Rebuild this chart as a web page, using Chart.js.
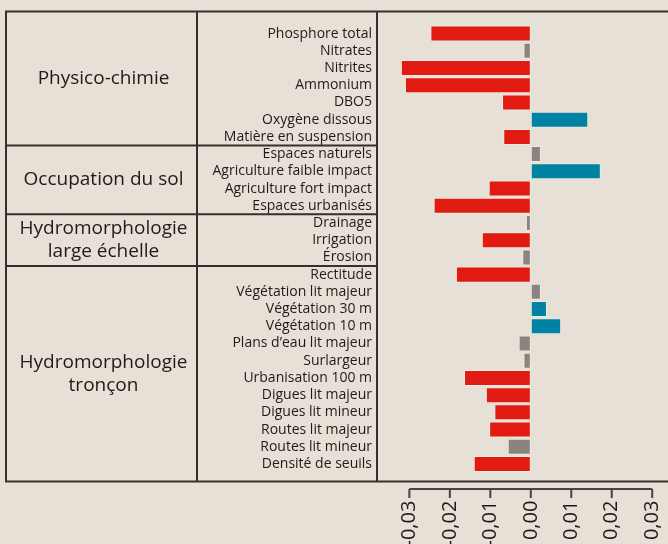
<!DOCTYPE html>
<html lang="fr">
<head>
<meta charset="utf-8">
<title>Effets des pressions</title>
<script src="https://cdn.jsdelivr.net/npm/chart.js@4/dist/chart.umd.min.js"></script>
<style>
  html, body { margin: 0; padding: 0; overflow: hidden; background: #e6e0d6; }
  #wrap { position: relative; width: 668px; height: 560px; }
</style>
</head>
<body>
<div id="wrap"><canvas id="chart"></canvas></div>
<script>
const categories = [
    'Phosphore total', 'Nitrates', 'Nitrites', 'Ammonium', 'DBO5', 'Oxygène dissous', 'Matière en suspension',
    'Espaces naturels', 'Agriculture faible impact', 'Agriculture fort impact', 'Espaces urbanisés',
    'Drainage', 'Irrigation', 'Érosion',
    'Rectitude', 'Végétation lit majeur', 'Végétation 30 m', 'Végétation 10 m', 'Plans d’eau lit majeur',
    'Surlargeur', 'Urbanisation 100 m', 'Digues lit majeur', 'Digues lit mineur', 'Routes lit majeur',
    'Routes lit mineur', 'Densité de seuils',
];
const values = [
    -0.0248, -0.0018, -0.0321, -0.0311, -0.0071, 0.0142, -0.0068,
    0.0025, 0.0173, -0.0104, -0.0240,
    -0.0012, -0.0121, -0.0021,
    -0.0185, 0.0025, 0.0040, 0.0075, -0.0030,
    -0.0018, -0.0165, -0.0111, -0.0090, -0.0103,
    -0.0057, -0.0141,
];
// gray bars = not significant
const significant = [
    true, false, true, true, true, true, true,
    false, true, true, true,
    false, true, false,
    true, false, true, true, false,
    false, true, true, true, true,
    false, true,
];
const groupNames = [
    ['Physico-chimie'],
    ['Occupation du sol'],
    ['Hydromorphologie', 'large échelle'],
    ['Hydromorphologie', 'tronçon'],
];
const groupSizes = [7, 4, 3, 12];
const xTickValues = [-0.03, -0.02, -0.01, 0, 0.01, 0.02, 0.03];
const xTickLabels = ['-0,03', '-0,02', '-0,01', '0,00', '0,01', '0,02', '0,03'];

const RED = '#e11b12';
const BLUE = '#0082a3';
const GRAY = '#8b837d';
const LINE = '#35302b';
const TEXT = '#1f1b18';
const FONT = '"Open Sans", "Noto Sans", sans-serif';

const tablePlugin = {
    id: 'table',
    afterDraw(chart) {
        const { ctx, chartArea, scales } = chart;
        const y = scales.y;
        const x = scales.x;
        const step = y.getPixelForValue(1) - y.getPixelForValue(0);
        const top = chartArea.top - 13.5;
        const bottom = chartArea.bottom + 9;
        const left = 6;
        const mid = 197;

        ctx.save();
        ctx.strokeStyle = LINE;
        ctx.lineWidth = 2;
        ctx.beginPath();
        ctx.moveTo(left - 1, top);
        ctx.lineTo(chartArea.right, top);
        ctx.moveTo(left - 1, bottom);
        ctx.lineTo(chartArea.right, bottom);
        ctx.moveTo(left, top);
        ctx.lineTo(left, bottom);
        ctx.moveTo(mid, top);
        ctx.lineTo(mid, bottom);
        ctx.moveTo(chartArea.left, top);
        ctx.lineTo(chartArea.left, bottom);

        let start = 0;
        const bounds = [];
        groupSizes.forEach((n, g) => {
            const y0 = g === 0 ? top : y.getPixelForValue(start) - step / 2;
            const y1 = g === groupSizes.length - 1 ? bottom : y.getPixelForValue(start + n - 1) + step / 2;
            if (g > 0) {
                ctx.moveTo(left, y0);
                ctx.lineTo(chartArea.left, y0);
            }
            bounds.push([y0, y1]);
            start += n;
        });
        ctx.stroke();

        // group titles
        ctx.fillStyle = TEXT;
        ctx.font = '19px ' + FONT;
        ctx.textAlign = 'center';
        ctx.textBaseline = 'middle';
        groupNames.forEach((lines, g) => {
            const cy = (bounds[g][0] + bounds[g][1]) / 2;
            const lh = 23;
            lines.forEach((txt, i) => {
                ctx.fillText(txt, (left + mid) / 2 + 2, cy + (i - (lines.length - 1) / 2) * lh);
            });
        });

        // x axis bracket
        const ay = chartArea.bottom + 16.5;
        ctx.strokeStyle = '#48433e';
        ctx.lineWidth = 2;
        ctx.beginPath();
        const xs = xTickValues.map(v => x.getPixelForValue(v));
        ctx.moveTo(xs[0], ay);
        ctx.lineTo(xs[xs.length - 1], ay);
        xs.forEach(px => {
            ctx.moveTo(px, ay);
            ctx.lineTo(px, ay + 9);
        });
        ctx.stroke();
        ctx.restore();
    },
};

const colors = values.map((v, i) => (significant[i] ? (v < 0 ? RED : BLUE) : GRAY));

new Chart(document.getElementById('chart'), {
    type: 'bar',
    data: {
        labels: categories,
        datasets: [{
            data: values,
            backgroundColor: colors,
            borderColor: 'rgba(255, 255, 255, 0.35)',
            borderWidth: 1,
            borderSkipped: false,
            barPercentage: 0.93,
            categoryPercentage: 1,
        }],
    },
    options: {
        indexAxis: 'y',
        responsive: true,
        maintainAspectRatio: false,
        animation: false,
        layout: { padding: { top: 25, right: 0, bottom: 0, left: 0 } },
        plugins: {
            legend: { display: false },
            tooltip: { enabled: false },
        },
        scales: {
            x: {
                min: -0.038,
                max: 0.0339,
                grid: { display: false, drawTicks: false },
                border: { display: false },
                afterBuildTicks: scale => {
                    scale.ticks = xTickValues.map(v => ({ value: v }));
                },
                afterFit: scale => {
                    scale.height = 87.4;
                    scale.paddingLeft = 0;
                    scale.paddingRight = 0;
                },
                ticks: {
                    minRotation: 90,
                    maxRotation: 90,
                    padding: 28,
                    color: TEXT,
                    font: { family: FONT, size: 20 },
                    callback: (value, index) => xTickLabels[index],
                },
            },
            y: {
                grid: { display: false, drawTicks: false },
                border: { display: false },
                afterFit: scale => {
                    scale.width = 377;
                },
                ticks: {
                    autoSkip: false,
                    padding: 5,
                    color: TEXT,
                    font: { family: FONT, size: 14 },
                },
            },
        },
    },
    plugins: [tablePlugin],
});
</script>
</body>
</html>
